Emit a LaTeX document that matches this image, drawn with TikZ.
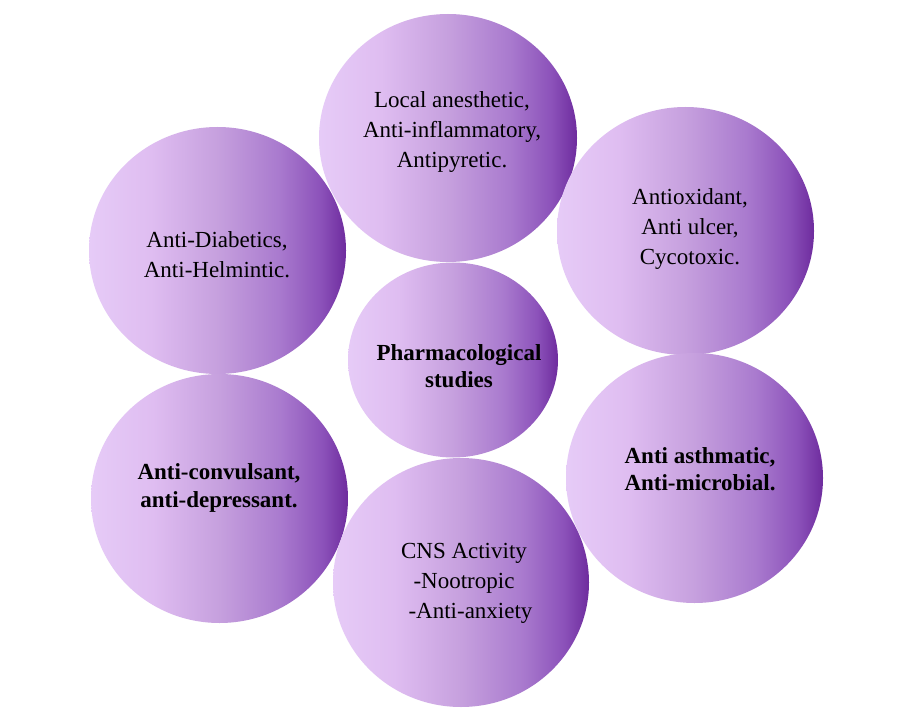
\documentclass[tikz,border=0pt]{standalone}
\usepackage{fontspec}
\setmainfont{Liberation Serif}
\usetikzlibrary{shapes.geometric}
\definecolor{pcA}{HTML}{E6CBF7}
\definecolor{pcB}{HTML}{DFBDF1}
\definecolor{pcC}{HTML}{C6A0DE}
\definecolor{pcD}{HTML}{A97ACE}
\definecolor{pcE}{HTML}{8C52BA}
\definecolor{pcF}{HTML}{6E2C9E}
\pgfdeclarehorizontalshading{purpgrad}{100bp}{color(0bp)=(pcA); color(25bp)=(pcA); color(37bp)=(pcB); color(50bp)=(pcC); color(62bp)=(pcD); color(70bp)=(pcE); color(75bp)=(pcF); color(100bp)=(pcF)}
\tikzset{
  bub/.style={ellipse, draw=none, inner sep=0pt, shading=purpgrad},
  lbl/.style={align=center, inner sep=0pt, text=black, font=\fontsize{23pt}{30pt}\selectfont},
  blbl/.style={align=center, inner sep=0pt, text=black, font=\fontsize{23pt}{27.5pt}\selectfont\bfseries}
}
\begin{document}
\begin{tikzpicture}[x=1pt,y=-1pt]
\fill[white] (0,0) rectangle (908,722);
\useasboundingbox (0,0) rectangle (908,722);
\node[bub, minimum width=258pt, minimum height=248pt] (ctop) at (448,138) {};
\node[bub, minimum width=257pt, minimum height=247pt] (ctl) at (217.5,250.5) {};
\node[bub, minimum width=257pt, minimum height=248pt] (ctr) at (685.5,231) {};
\node[bub, minimum width=257pt, minimum height=249pt] (cbl) at (219.5,498.5) {};
\node[bub, minimum width=257pt, minimum height=250pt] (cbr) at (694.5,478) {};
\node[bub, minimum width=256pt, minimum height=249pt] (cbot) at (461,582.5) {};
\node[bub, minimum width=210pt, minimum height=195pt] (cmid) at (453,360) {};
\node[lbl] (ttop) at (452,132) {Local anesthetic,\\Anti-inflammatory,\\Antipyretic.};
\node[lbl] (ttl) at (217,255) {Anti-Diabetics,\\Anti-Helmintic.};
\node[lbl] (ttr) at (690,229) {Antioxidant,\\Anti ulcer,\\Cycotoxic.};
\node[blbl] (tmid) at (459,366) {Pharmacological\\studies};
\node[blbl] (tbl) at (219,488) {Anti-convulsant,\\anti-depressant.};
\node[blbl] (tbr) at (700,469) {Anti asthmatic,\\Anti-microbial.};
\node[lbl] (tbot) at (464,583) {CNS Activity\\-Nootropic\\\hspace*{13pt}-Anti-anxiety};
\end{tikzpicture}
\end{document}
